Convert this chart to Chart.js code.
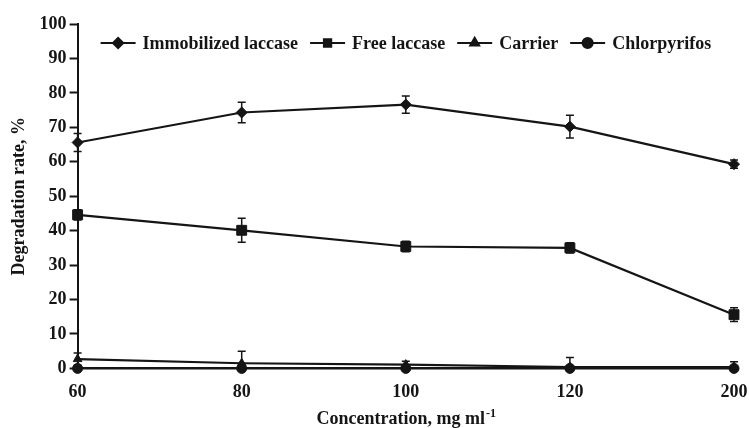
<!DOCTYPE html>
<html>
<head>
<meta charset="utf-8">
<script src="https://cdn.jsdelivr.net/npm/chart.js@4/dist/chart.umd.min.js"></script>
<style>
  html, body { margin: 0; padding: 0; background: #fff; }
  #wrap { width: 749px; height: 428px; position: relative; }
</style>
</head>
<body>
<div id="wrap"><canvas id="chart" width="749" height="428"></canvas></div>
<script>
// Concentration levels (mg/ml)
const concentrations = ['60', '80', '100', '120', '200'];

// Degradation rate (%) with standard deviations
const immobilized = [65.6, 74.3, 76.6, 70.2, 59.3];
const immobilizedErr = [2.6, 3.0, 2.5, 3.3, 1.2];

const freeLaccase = [44.6, 40.1, 35.4, 35.0, 15.6];
const freeLaccaseErr = [1.5, 3.5, 1.5, 1.5, 2.0];

const carrier = [2.7, 1.5, 1.1, 0.4, 0.4];
const carrierErr = [1.8, 3.5, 1.0, 2.8, 1.5];

const chlorpyrifos = [0, 0, 0, 0, 0];
const chlorpyrifosErr = [0, 0, 0, 0, 0];

const INK = '#151515';
const SERIF = '"Liberation Serif", "Times New Roman", serif';

function series(label, data, err, style, radius) {
  return {
    label, data, err,
    borderColor: INK, backgroundColor: INK,
    borderWidth: 2.2,
    pointStyle: style, pointRadius: radius, pointHoverRadius: radius,
    pointBorderWidth: 1,
    tension: 0, clip: false
  };
}

// Vertical error bars with caps, drawn through the scales
const errorBars = {
  id: 'errorBars',
  beforeDatasetsDraw(chart) {
    const { ctx, scales: { x, y } } = chart;
    ctx.save();
    ctx.strokeStyle = INK;
    ctx.lineWidth = 1.5;
    chart.data.datasets.forEach(ds => {
      ds.data.forEach((v, i) => {
        const e = ds.err[i];
        if (!e) return;
        const px = x.getPixelForValue(i);
        const top = y.getPixelForValue(v + e);
        const bot = y.getPixelForValue(Math.max(0, v - e));
        ctx.beginPath();
        ctx.moveTo(px, top); ctx.lineTo(px, bot);
        ctx.moveTo(px - 4, top); ctx.lineTo(px + 4, top);
        ctx.moveTo(px - 4, bot); ctx.lineTo(px + 4, bot);
        ctx.stroke();
      });
    });
    ctx.restore();
  }
};

// Legend row: line segment with marker, followed by the series name
const lineLegend = {
  id: 'lineLegend',
  afterDraw(chart) {
    const { ctx, chartArea } = chart;
    ctx.save();
    ctx.font = 'bold 18px ' + SERIF;
    ctx.textBaseline = 'middle';
    ctx.fillStyle = INK;
    ctx.strokeStyle = INK;
    let xPos = chartArea.left + 23;
    const yPos = chartArea.top + 19;
    const seg = 35, gapText = 7, gapItem = 12;
    chart.data.datasets.forEach(ds => {
      ctx.lineWidth = 2.2;
      ctx.beginPath();
      ctx.moveTo(xPos, yPos); ctx.lineTo(xPos + seg, yPos);
      ctx.stroke();
      Chart.helpers.drawPoint(ctx, {
        pointStyle: ds.pointStyle, radius: Math.min(ds.pointRadius, 5), borderWidth: 1
      }, xPos + seg / 2, yPos);
      ctx.fill();
      xPos += seg + gapText;
      ctx.fillText(ds.label, xPos, yPos + 1);
      xPos += ctx.measureText(ds.label).width + gapItem;
    });
    ctx.restore();
  }
};

// X axis title with a superscript unit exponent
const xTitle = {
  id: 'xTitle',
  afterDraw(chart) {
    const { ctx, chartArea } = chart;
    const main = 'Concentration, mg ml';
    const sup = '-1';
    ctx.save();
    ctx.fillStyle = INK;
    ctx.textBaseline = 'alphabetic';
    ctx.font = 'bold 18px ' + SERIF;
    const wMain = ctx.measureText(main).width;
    ctx.font = 'bold 12px ' + SERIF;
    const wSup = ctx.measureText(sup).width;
    const x0 = (chartArea.left + chartArea.right) / 2 - (wMain + wSup) / 2;
    const base = chartArea.bottom + 56;
    ctx.font = 'bold 18px ' + SERIF;
    ctx.fillText(main, x0, base);
    ctx.font = 'bold 12px ' + SERIF;
    ctx.fillText(sup, x0 + wMain + 1, base - 7);
    ctx.restore();
  }
};

new Chart(document.getElementById('chart'), {
  type: 'line',
  data: {
    labels: concentrations,
    datasets: [
      series('Immobilized laccase', immobilized, immobilizedErr, 'rectRot', 5.5),
      series('Free laccase', freeLaccase, freeLaccaseErr, 'rect', 7),
      series('Carrier', carrier, carrierErr, 'triangle', 5),
      series('Chlorpyrifos', chlorpyrifos, chlorpyrifosErr, 'circle', 5)
    ]
  },
  options: {
    responsive: false,
    animation: false,
    layout: { padding: { top: 24, right: 15, left: 9, bottom: 12 } },
    plugins: {
      legend: { display: false },
      tooltip: { enabled: false }
    },
    scales: {
      x: {
        type: 'category',
        offset: false,
        border: { color: INK, width: 2 },
        grid: { display: false, drawTicks: false },
        ticks: {
          color: INK, padding: 13,
          font: { family: SERIF, size: 18, weight: 'bold' }
        },
        afterFit(scale) {
          scale.paddingRight = 0;
          scale.paddingLeft = 0;
        }
      },
      y: {
        min: 0, max: 100,
        border: { color: INK, width: 2 },
        grid: {
          drawOnChartArea: false, drawTicks: true,
          tickLength: 8, tickColor: INK, tickWidth: 2
        },
        ticks: {
          stepSize: 10, color: INK, padding: 3,
          font: { family: SERIF, size: 18, weight: 'bold' }
        },
        title: {
          display: true,
          text: 'Degradation rate, %',
          color: INK,
          padding: { top: 0, bottom: 6 },
          font: { family: SERIF, size: 18, weight: 'bold' }
        }
      }
    }
  },
  plugins: [errorBars, lineLegend, xTitle]
});
</script>
</body>
</html>
